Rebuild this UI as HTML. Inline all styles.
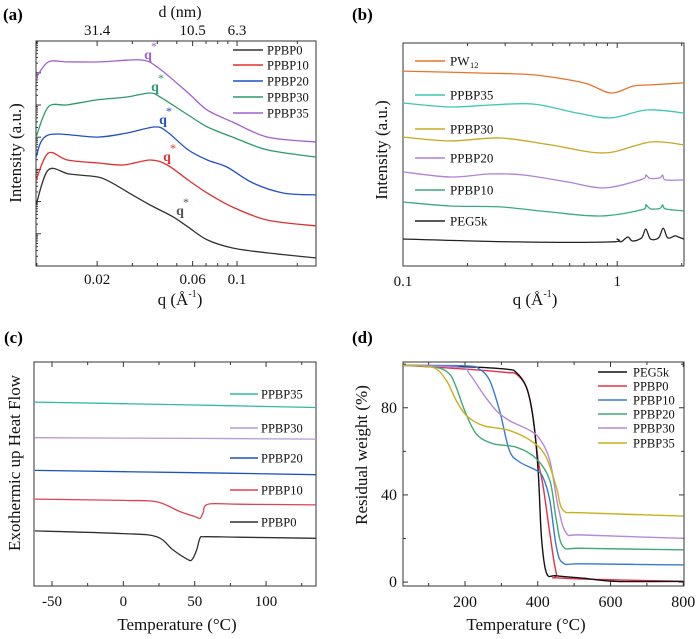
<!DOCTYPE html>
<html><head><meta charset="utf-8">
<style>
html,body{margin:0;padding:0;background:#fff;}
svg{display:block;font-family:"Liberation Serif",serif;}
text{font-family:"Liberation Serif",serif;}
</style></head>
<body>
<svg id="fig" width="700" height="639" viewBox="0 0 700 639" xmlns="http://www.w3.org/2000/svg">
<rect width="700" height="639" fill="#fff"/>
<text x="3" y="20" font-size="17" font-weight="bold" font-family="Liberation Serif, serif">(a)</text>
<text x="352" y="20" font-size="17" font-weight="bold" font-family="Liberation Serif, serif">(b)</text>
<text x="4" y="343" font-size="17" font-weight="bold" font-family="Liberation Serif, serif">(c)</text>
<text x="352" y="343" font-size="17" font-weight="bold" font-family="Liberation Serif, serif">(d)</text>
</svg>
<script>
// ---------- Panel (a) SAXS data ----------
const aNames = ["PPBP0","PPBP10","PPBP20","PPBP30","PPBP35"];
const aQ0 = [0.00991,0.0114,0.0145,0.02,0.0233,0.03,0.0368,0.048,0.057,0.071,0.095,0.142,0.248];
const aI0 = [27.1,42.7,40.9,39.6,37.3,31.6,27.1,21.8,17.3,11.6,8,5.8,3.6];
const aQ1 = [0.00991,0.0114,0.0142,0.02,0.027,0.0368,0.0448,0.057,0.071,0.095,0.142,0.248];
const aI1 = [38.2,50.2,47.1,45.8,44.9,47.1,44.9,38.2,32.4,26.2,20.4,17.8];
const aQ2 = [0.00991,0.0114,0.02,0.0282,0.039,0.0448,0.057,0.071,0.089,0.12,0.171,0.248];
const aI2 = [48.4,58.2,57.3,59.1,61.8,59.6,51.6,47.1,44,36.9,32.4,31.6];
const aQ3 = [0.00991,0.0114,0.0142,0.02,0.0282,0.0368,0.042,0.057,0.071,0.095,0.142,0.248];
const aI3 = [57.3,70.7,71.6,73.8,75.1,76.9,74.7,67.1,61.8,57.3,51.6,48.4];
const aQ4 = [0.00991,0.0114,0.0142,0.0207,0.0328,0.04,0.057,0.071,0.095,0.142,0.248];
const aI4 = [83.6,90.7,90.7,90.7,91.6,88.4,76.9,69.3,64,57.3,55.1];
const aTopLabels = ["31.4","10.5","6.3"];
const aTopQ = [0.02,0.06,0.1];
const aBottomLabels = ["0.02","0.06","0.1"];
// ---------- Panel (b) WAXS data ----------
const bNames = ["PW12","PPBP35","PPBP30","PPBP20","PPBP10","PEG5k"];
const bQ0 = [0.1,0.238,0.408,0.698,0.932,1.19,1.43,2.05];
const bI0 = [87.4,86.5,85.7,82.1,77.6,80.7,81.2,82.1];
const bQ1 = [0.1,0.166,0.256,0.408,0.649,0.932,1.38,2.05];
const bI1 = [73.1,71.3,72.2,72.6,68.6,66.4,70,68.6];
const bQ2 = [0.1,0.166,0.284,0.488,0.87,1.43,2.05];
const bI2 = [57.8,56.1,57.4,54.3,50.7,55.6,54.3];
const bQ3 = [0.1,0.166,0.256,0.366,0.584,0.87,1.3,1.36,1.42,1.58,1.63,1.68,2.05];
const bI3 = [42.2,39.9,41.3,40.8,37.7,35,38.8,40.8,39.3,39.5,40.8,38.6,38.6];
const bQ4 = [0.1,0.166,0.284,0.488,0.835,1.3,1.36,1.43,1.58,1.63,1.68,2.05];
const bI4 = [28.7,26.9,26.5,24.2,22.4,25.2,27.4,25.6,25.8,27.4,25.6,24.7];
const bQ5 = [0.1,0.341,0.932,1.0,1.04,1.12,1.18,1.3,1.36,1.43,1.56,1.64,1.72,1.86,1.93,2.05];
const bI5 = [12.1,10.8,10.8,12.1,10.8,13,11.2,12.6,16.6,12.1,12.6,17,12.6,13.5,13,12.1];
// ---------- Panel (c) DSC data ----------
const cNames = ["PPBP35","PPBP30","PPBP20","PPBP10","PPBP0"];
const cT0 = [-62,50,135]; const cH0 = [82.1,80.8,79.7];
const cT1 = [-62,50,135]; const cH1 = [66.2,65.9,65.6];
const cT2 = [-62,50,135]; const cH2 = [51.6,50.6,49.7];
const cT3 = [-62,0,23.4,39.7,50.2,53.7,55.8,59.3,80,135];
const cH3 = [38.8,38.2,37.6,33.2,31,30.2,32.6,36.5,36.5,36.2];
const cT4 = [-62,0,23.4,34.8,44.4,47.9,51.4,53.7,57.2,80,135];
const cH4 = [24.6,23.4,22,16.1,12.1,11.6,16.1,21.4,22,21.8,21.3];
// ---------- Panel (d) TGA data ----------
const dNames = ["PEG5k","PPBP0","PPBP10","PPBP20","PPBP30","PPBP35"];
const dT0 = [30,204,314,341,369,387,401,410,424,451,525,617,800];
const dW0 = [99.5,98.8,97.7,96.2,89.3,75.6,51.3,20.9,4.1,2.9,1.8,0.3,0.3];
const dT1 = [30,204,314,341,369,387,401,415,433,451,470,800];
const dW1 = [99.5,97.7,96.2,95.4,89.3,75.6,55.9,43.7,22.4,4.1,1.8,0.3];
const dT2 = [30,204,240,268,295,322,350,396,414,433,451,470,525,800];
const dW2 = [99.5,99.2,97.7,92.4,78.7,60.4,55.1,51.3,48.2,37.6,16.3,8.7,8.4,7.9];
const dT3 = [30,121,158,176,199,231,277,341,396,433,451,470,525,800];
const dW3 = [99.5,98.5,95.4,89.3,78.7,68,63.5,61.9,56.6,46.7,28.5,16.3,15.5,14.8];
const dT4 = [30,185,213,250,286,322,378,405,433,456,479,525,800];
const dW4 = [99.5,98.5,95.4,86.3,78.7,74.1,69.6,65.8,55.9,34.6,22.4,21.6,20.1];
const dT5 = [30,112,149,176,204,250,322,387,423,451,470,525,800];
const dW5 = [99.5,98.5,92.4,83.3,76.4,71.8,69.6,64.2,57.4,43.7,33,31.8,30.3];
const dYTicks = [0,40,80];
const dXTicks = [200,400,600,800];
const cXTicks = [-50,0,50,100];

const NS = "http://www.w3.org/2000/svg";
const svg = document.getElementById("fig");
function mk(tag, attrs, parent){
  const e = document.createElementNS(NS, tag);
  for (const k in attrs) e.setAttribute(k, attrs[k]);
  (parent||svg).appendChild(e); return e;
}
function txt(s, x, y, size, anchor, name, parent){
  const t = mk("text", {x:x, y:y, "font-size":size, "text-anchor":anchor||"middle", fill:"#111", "font-family":"Liberation Serif, serif"}, parent);
  t.textContent = s;
  
  
  return t;
}
function qTitle(x, y, name){
  const t = mk("text", {x:x, y:y, "font-size":17, "text-anchor":"middle", fill:"#111", "font-family":"Liberation Serif, serif"});
  
  
  const a = mk("tspan", {}, t); a.textContent = "q (Å";
  const b = mk("tspan", {"font-size":10, dy:-8}, t); b.textContent = "-1";
  const c = mk("tspan", {dy:8}, t); c.textContent = ")";
}
function linS(d0,d1,r0,r1){ return v => r0 + (v-d0)/(d1-d0)*(r1-r0); }
function logS(d0,d1,r0,r1){ return v => r0 + (Math.log10(v)-Math.log10(d0))/(Math.log10(d1)-Math.log10(d0))*(r1-r0); }
function smoothPath(pts){
  let d = "M"+pts[0][0].toFixed(1)+","+pts[0][1].toFixed(1);
  for (let i=0;i<pts.length-1;i++){
    const p0=pts[Math.max(0,i-1)], p1=pts[i], p2=pts[i+1], p3=pts[Math.min(pts.length-1,i+2)];
    const t=0.16;
    const c1=[p1[0]+(p2[0]-p0[0])*t, p1[1]+(p2[1]-p0[1])*t];
    const c2=[p2[0]-(p3[0]-p1[0])*t, p2[1]-(p3[1]-p1[1])*t];
    d+="C"+c1[0].toFixed(1)+","+c1[1].toFixed(1)+" "+c2[0].toFixed(1)+","+c2[1].toFixed(1)+" "+p2[0].toFixed(1)+","+p2[1].toFixed(1);
  }
  return d;
}
function series(xs, ys, sx, sy, color, name, w){
  const pts = xs.map((x,i)=>[sx(x), sy(ys[i])]);
  const p = mk("path", {d:smoothPath(pts), fill:"none", stroke:color, "stroke-width":w||1.3});
  
  
  return p;
}
function frame(x0,y0,x1,y1,name){
  const r = mk("rect",{x:x0,y:y0,width:x1-x0,height:y1-y0,fill:"none",stroke:"#333","stroke-width":1});
  
  
}
function tick(x1,y1,x2,y2){ mk("line",{x1:x1,y1:y1,x2:x2,y2:y2,stroke:"#333","stroke-width":1}); }
function legend(x0,x1,tx,ys,names,colors,prefix,size){
  names.forEach((n,i)=>{
    const l = mk("line",{x1:x0,y1:ys[i],x2:x1,y2:ys[i],stroke:colors[i],"stroke-width":1.6});
    
    
    txt(n, tx, ys[i]+4.5, size||13, "start", prefix+'-legend-'+n.toLowerCase());
  });
}

// ===== Panel (a) =====
(function(){
  const X0=36,X1=316,Y0=41,Y1=266;
  const sx = logS(0.0099,0.248,X0,X1), sy = linS(0,100,Y1,Y0);
  frame(X0,Y0,X1,Y1,"panel-a-frame");
  const minors=[0.01,0.02,0.03,0.04,0.05,0.06,0.07,0.08,0.09,0.1,0.2];
  minors.forEach(q=>{const L=(aTopQ.indexOf(q)>=0)?5:3; tick(sx(q),Y1,sx(q),Y1-L); tick(sx(q),Y0,sx(q),Y0+L);});
  aBottomLabels.forEach((s,i)=>txt(s, sx(aTopQ[i]), 284, 15, "middle", "a-x-tick-"+s));
  aTopLabels.forEach((s,i)=>txt(s, sx(aTopQ[i]), 35, 15, "middle", "a-top-tick-"+s));
  for(let k=0;k<7;k++){ const yb=Y1-k*32.2; tick(X0,yb,X0+5,yb);
    for(let m=2;m<10;m++){ const yy=yb-Math.log10(m)*32.2; if(yy>Y0) tick(X0,yy,X0+2,yy);} }
  txt("d (nm)", 180, 17, 16, "middle", "a-top-axis-title");
  qTitle(180, 305, "a-x-axis-title");
  const yt = txt("Intensity (a.u.)", 0, 0, 17, "middle", "a-y-axis-title"); yt.setAttribute("transform","translate(21,153) rotate(-90)");
  const cols=["#333333","#e03030","#2050c8","#2a9a6a","#a060d0"];
  const Qs=[aQ0,aQ1,aQ2,aQ3,aQ4], Is=[aI0,aI1,aI2,aI3,aI4];
  Qs.forEach((q,i)=>series(q,Is[i],sx,sy,cols[i],"a-curve-"+aNames[i].toLowerCase()));
  legend(233,263,267,[50,65,81,97,113],aNames,cols,"a",12.5);
  const qs=[[180,211,"#555"],[167,157,"#e03030"],[163,120,"#2050c8"],[155,87,"#2a9a6a"],[148,55,"#a060d0"]];
  qs.forEach((p,i)=>{ const t=txt("q",p[0],p[1]+4,14,"middle","a-qstar-"+aNames[i].toLowerCase()); t.setAttribute("fill",p[2]); t.setAttribute("font-weight","bold");
    const s=txt("*",p[0]+6,p[1]-5,12,"middle","a-qstar-mark-"+i); s.setAttribute("fill",p[2]); });
})();

// ===== Panel (b) =====
(function(){
  const X0=403,X1=684,Y0=43,Y1=266;
  const sx = logS(0.1,2.05,X0,X1), sy = linS(0,100,Y1,Y0);
  frame(X0,Y0,X1,Y1,"panel-b-frame");
  [0.1,0.2,0.3,0.4,0.5,0.6,0.7,0.8,0.9,1,2].forEach(q=>{const L=(q===0.1||q===1)?5:3; tick(sx(q),Y1,sx(q),Y1-L); tick(sx(q),Y0,sx(q),Y0+L);});
  txt("0.1", sx(0.1), 286, 15, "middle", "b-x-tick-0.1");
  txt("1", sx(1), 286, 15, "middle", "b-x-tick-1");
  qTitle(535, 305, "b-x-axis-title");
  const yt = txt("Intensity (a.u.)", 0, 0, 17, "middle", "b-y-axis-title"); yt.setAttribute("transform","translate(387,150) rotate(-90)");
  const cols=["#e8742a","#3cc8b4","#c8a820","#b080d8","#3aaa80","#222222"];
  const Qs=[bQ0,bQ1,bQ2,bQ3,bQ4,bQ5], Is=[bI0,bI1,bI2,bI3,bI4,bI5];
  Qs.forEach((q,i)=>series(q,Is[i],sx,sy,cols[i],"b-curve-"+bNames[i].toLowerCase()));
  const ys=[61,95,129,158,190,221];
  bNames.forEach((n,i)=>{
    const l=mk("line",{x1:415,y1:ys[i],x2:445,y2:ys[i],stroke:cols[i],"stroke-width":1.6});
    
    
  });
  txt("PW", 450, 65.5, 13, "start", "b-legend-pw12"); txt("12", 470, 68, 8.5, "start", "b-legend-pw12-sub");
  bNames.slice(1).forEach((n,i)=>txt(n,450,ys[i+1]+4.5,13,"start","b-legend-"+n.toLowerCase()));
})();

// ===== Panel (c) =====
(function(){
  const X0=34,X1=316,Y0=362,Y1=586;
  const sx = linS(-62.6,135,X0,X1), sy = linS(0,100,Y1,Y0);
  frame(X0,Y0,X1,Y1,"panel-c-frame");
  for(let t=-50;t<=125;t+=25){ const L=(t%50===0)?5:3; tick(sx(t),Y1,sx(t),Y1-L); tick(sx(t),Y0,sx(t),Y0+L);}
  cXTicks.forEach(t=>txt(String(t), sx(t), 606, 15, "middle", "c-x-tick-"+t));
  txt("Temperature (°C)", 177, 630, 17, "middle", "c-x-axis-title");
  const yt = txt("Exothermic up Heat Flow", 0, 0, 17, "middle", "c-y-axis-title"); yt.setAttribute("transform","translate(20,463) rotate(-90)");
  const cols=["#30b8a8","#b898d8","#2050c0","#e04050","#303030"];
  const Ts=[cT0,cT1,cT2,cT3,cT4], Hs=[cH0,cH1,cH2,cH3,cH4];
  Ts.forEach((t,i)=>series(t,Hs[i],sx,sy,cols[i],"c-curve-"+cNames[i].toLowerCase()));
  legend(230,258,261,[394,428,458,490,522],cNames,cols,"c",12.5);
})();

// ===== Panel (d) =====
(function(){
  const X0=403,X1=684,Y0=362,Y1=586;
  const sx = linS(29.5,802,X0,X1), sy = linS(-1.8,101,Y1,Y0);
  frame(X0,Y0,X1,Y1,"panel-d-frame");
  for(let t=100;t<=800;t+=100){ const L=(t%200===0)?5:3; tick(sx(t),Y1,sx(t),Y1-L); tick(sx(t),Y0,sx(t),Y0+L);}
  for(let w=0;w<=100;w+=20){ const L=(w%40===0)?5:3; tick(X0,sy(w),X0+L,sy(w)); tick(X1,sy(w),X1-L,sy(w)); }
  dXTicks.forEach(t=>txt(String(t), sx(t), 607, 16, "middle", "d-x-tick-"+t));
  dYTicks.forEach(w=>txt(String(w), 397, sy(w)+5, 16, "end", "d-y-tick-"+w));
  txt("Temperature (°C)", 526, 630, 17, "middle", "d-x-axis-title");
  const yt = txt("Residual weight (%)", 0, 0, 17, "middle", "d-y-axis-title"); yt.setAttribute("transform","translate(367,455) rotate(-90)");
  const cols=["#111111","#e8304a","#3a7ad0","#40a878","#b888d8","#c8b020"];
  const Ts=[dT0,dT1,dT2,dT3,dT4,dT5], Ws=[dW0,dW1,dW2,dW3,dW4,dW5];
  [1,0,2,3,4,5].forEach(i=>series(Ts[i],Ws[i],sx,sy,cols[i],"d-curve-"+dNames[i].toLowerCase(),1.4));
  legend(598,627,633,[372,386,400,414,428,443],dNames,cols,"d",12.5);
})();
</script>
</body></html>
